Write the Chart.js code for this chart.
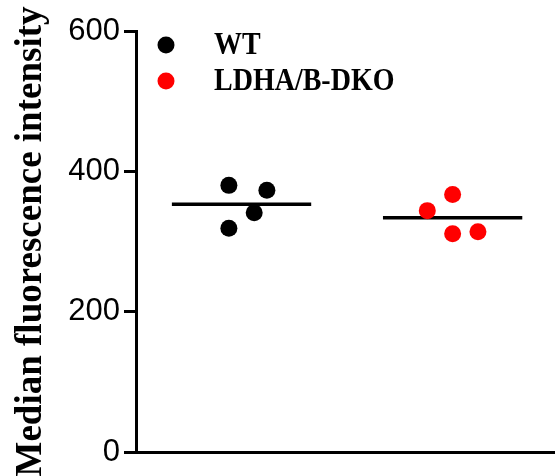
<!DOCTYPE html>
<html>
<head>
<meta charset="utf-8">
<script src="https://cdn.jsdelivr.net/npm/chart.js@4/dist/chart.umd.min.js"></script>
<style>
    html, body { margin: 0; padding: 0; background: #fff; }
    #wrap { width: 555px; height: 476px; }
</style>
</head>
<body>
<div id="wrap"><canvas id="mfiChart" width="555" height="476"></canvas></div>
<script>
// group names and where each group sits on the (hidden) x scale
const groups = ["WT", "LDHA/B-DKO"];
const groupPos = [1, 3];
const groupColors = ["#000000", "#ff0000"];

// individual values (median fluorescence intensity) and their horizontal jitter
const wtValues = [380, 373, 341, 319];
const wtJitter = [-0.12, 0.24, 0.12, -0.12];
const dkoValues = [344, 367, 311, 314];
const dkoJitter = [-0.24, 0, 0, 0.24];

const yTicks = [0, 200, 400, 600];
const meanHalfWidth = 0.66;

function points(values, jitter, center) {
    return values.map((v, i) => ({ x: center + jitter[i], y: v }));
}

function meanLine(values, center) {
    const mean = values.reduce((a, b) => a + b, 0) / values.length;
    return [{ x: center - meanHalfWidth, y: mean }, { x: center + meanHalfWidth, y: mean }];
}

// legend drawn inside the plot, top left
const legendPlugin = {
    id: "insideLegend",
    afterDraw(chart) {
        const ctx = chart.ctx;
        const left = chart.chartArea.left;
        ctx.save();
        groups.forEach((name, i) => {
            const y = 45 + i * 36;
            ctx.beginPath();
            ctx.fillStyle = groupColors[i];
            ctx.arc(left + 30, y, 8.5, 0, Math.PI * 2);
            ctx.fill();
            // the original text is a bit taller than it is wide
            ctx.save();
            ctx.translate(left + 78, y + 1);
            ctx.scale(1, 1.15);
            ctx.fillStyle = "#000";
            ctx.font = "bold 28px 'Liberation Serif', 'Times New Roman', serif";
            ctx.textBaseline = "middle";
            ctx.textAlign = "left";
            ctx.fillText(name, 0, 0);
            ctx.restore();
        });
        ctx.restore();
    }
};

const CHART = document.getElementById("mfiChart");
const chart = new Chart(CHART, {
    type: "scatter",
    data: {
        datasets: [
            {
                label: groups[0],
                data: points(wtValues, wtJitter, groupPos[0]),
                backgroundColor: groupColors[0],
                borderWidth: 0,
                pointRadius: 8.5,
            },
            {
                label: groups[1],
                data: points(dkoValues, dkoJitter, groupPos[1]),
                backgroundColor: groupColors[1],
                borderWidth: 0,
                pointRadius: 8.5,
            },
            {
                type: "line",
                label: "WT mean",
                data: meanLine(wtValues, groupPos[0]),
                borderColor: "#000",
                borderWidth: 3.5,
                pointRadius: 0,
                showLine: true,
            },
            {
                type: "line",
                label: "DKO mean",
                data: meanLine(dkoValues, groupPos[1]),
                borderColor: "#000",
                borderWidth: 3.5,
                pointRadius: 0,
                showLine: true,
            },
        ],
    },
    options: {
        responsive: false,
        animation: false,
        layout: { autoPadding: false, padding: { top: 31, right: 0, bottom: 24, left: 0 } },
        plugins: {
            legend: { display: false },
            tooltip: { enabled: false },
        },
        scales: {
            x: {
                type: "linear",
                min: 0,
                max: 3.97,
                grid: { display: false },
                ticks: { display: false },
                border: { display: true, color: "#000", width: 3 },
                afterFit(scale) { scale.height = 0; },
            },
            y: {
                min: 0,
                max: 600,
                afterBuildTicks(scale) { scale.ticks = yTicks.map(v => ({ value: v })); },
                afterFit(scale) { scale.width = 136; },
                grid: { drawOnChartArea: false, drawTicks: true, tickLength: 12, color: "#000", lineWidth: 3 },
                border: { display: true, color: "#000", width: 3 },
                ticks: {
                    color: "#000",
                    padding: 4,
                    font: { family: "'Liberation Sans', Arial, sans-serif", size: 31 },
                },
                title: {
                    display: true,
                    text: "Median fluorescence intensity",
                    color: "#000",
                    padding: { top: 9, bottom: 0 },
                    font: { family: "'Liberation Serif', 'Times New Roman', serif", size: 37, weight: "bold", lineHeight: 1.2 },
                },
            },
        },
    },
    plugins: [legendPlugin],
});
</script>
</body>
</html>
